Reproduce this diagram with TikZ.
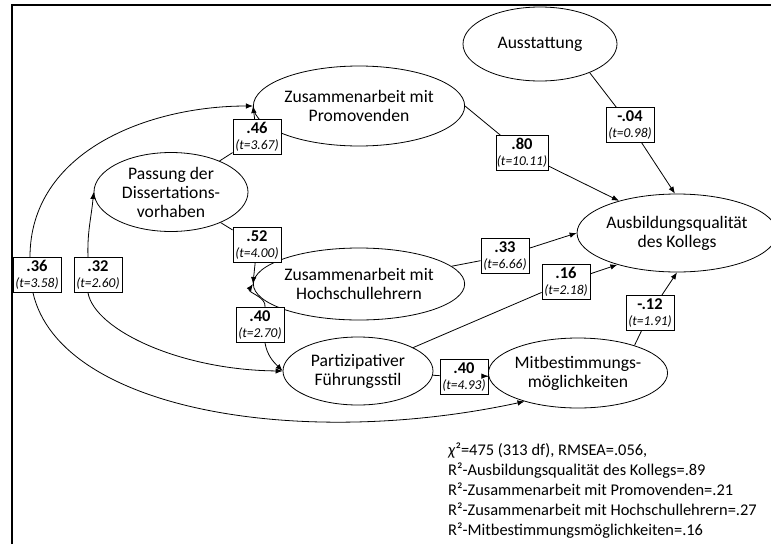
\documentclass[tikz,border=0pt]{standalone}
\usepackage{fontspec}
\setmainfont{Carlito}
\usetikzlibrary{shapes.geometric,arrows.meta}

\newcommand{\pathlabel}[2]{{\fontsize{16.5}{17}\selectfont\bfseries #1}\\{\itshape (t=#2)}}

\begin{document}
\begin{tikzpicture}[x=1pt,y=1pt,
    latent/.style={ellipse, draw, line width=0.8pt, minimum width=152pt, minimum height=76pt, inner sep=0pt, align=center, font=\fontsize{17.6}{19}\selectfont},
    coef/.style={rectangle, draw, line width=0.8pt, fill=white, inner sep=1pt, minimum width=48pt, minimum height=35pt, align=center, font=\fontsize{13.5}{16}\selectfont},
    link/.style={line width=0.8pt},
    effect/.style={link, -{Latex[length=7pt,width=5.5pt]}}]
    \useasboundingbox (0,0) rectangle (771,-544);

    % Frame
    \draw[line width=2pt] (12,-544) -- (12,-5) -- (771,-5);

    % Draw nodes
    \node[latent, minimum width=154pt, minimum height=74pt] (aus) at (540,-44) {Ausstattung};
    \node[latent, minimum height=80pt] (prom) at (359,-106) {Zusammenarbeit mit\\Promovenden};
    \node[latent, minimum width=154pt, minimum height=79pt] (pas) at (171,-192) {Passung der\\Dissertations-\\vorhaben};
    \node[latent, minimum height=72pt] (hoch) at (359,-284) {Zusammenarbeit mit\\Hochschullehrern};
    \node[latent, minimum width=150pt, minimum height=68pt] (part) at (358,-371) {Partizipativer\\Führungsstil};
    \node[latent, minimum height=70pt] (mitb) at (578,-373) {Mitbestimmungs-\\möglichkeiten};
    \node[latent, minimum height=78pt] (ausb) at (677,-233) {Ausbildungsqualität\\des Kollegs};

    % Coefficients
    \node[coef] (l46) at (257,-137) {\pathlabel{.46}{3.67}};
    \node[coef] (l52) at (257,-245) {\pathlabel{.52}{4.00}};
    \node[coef] (l36) at (37,-275) {\pathlabel{.36}{3.58}};
    \node[coef] (l32) at (98,-275) {\pathlabel{.32}{2.60}};
    \node[coef] (l40a) at (260,-325) {\pathlabel{.40}{2.70}};
    \node[coef] (l80) at (522,-153) {\pathlabel{.80}{10.11}};
    \node[coef] (l04) at (630,-125) {\pathlabel{-.04}{0.98}};
    \node[coef] (l33) at (505,-256) {\pathlabel{.33}{6.66}};
    \node[coef] (l16) at (566,-282) {\pathlabel{.16}{2.18}};
    \node[coef] (l12) at (650,-313) {\pathlabel{-.12}{1.91}};
    \node[coef] (l40b) at (464,-377) {\pathlabel{.40}{4.93}};

    % Draw connections
    \draw[link] (pas) -- (l46);
    \draw[effect] (l46) -- (prom.west);
    \draw[link] (pas) -- (l52);
    \draw[effect] (l52) -- (hoch.west);
    \draw[link] (prom.east) -- (l80);
    \draw[effect] (l80) -- (ausb.151);
    \draw[link] (aus.-30) -- (l04);
    \draw[effect] (l04) -- (ausb.93);
    \draw[link] (hoch) -- (l33);
    \draw[effect] (l33) -- (ausb.west);
    \draw[link] (part.23) -- (l16);
    \draw[effect] (l16) -- (ausb.208);
    \draw[link] (mitb.26) -- (l12);
    \draw[effect] (l12) -- (ausb.south);
    \draw[link] (part) -- (l40b);
    \draw[effect] (l40b) -- (mitb);

    % Curved connections
    \draw[effect] ([xshift=-7pt]l36.north) to[out=90,in=180] (prom.west);
    \draw[effect] ([xshift=-4pt]l36.south) .. controls (60,-410) and (300,-450) .. (mitb.208);
    \draw[effect] ([xshift=-10pt]l32.north) to[out=92,in=-95] (pas.west);
    \draw[effect] ([xshift=-10pt]l32.south) .. controls (95,-330) and (180,-370) .. (part.west);
    \draw[effect] ([xshift=5pt]l40a.north) to[out=80,in=235] (hoch.west);
    \draw[effect] ([xshift=5pt]l40a.south) to[out=-80,in=135] (part.west);

    % Fit indices
    \node[anchor=north west, align=left, inner sep=0pt, font=\fontsize{16.4}{20}\selectfont] (fit) at (448,-443)
        {\textit{χ}²=475 (313 df), RMSEA=.056,\\
         R²-Ausbildungsqualität des Kollegs=.89\\
         R²-Zusammenarbeit mit Promovenden=.21\\
         R²-Zusammenarbeit mit Hochschullehrern=.27\\
         R²-Mitbestimmungsmöglichkeiten=.16};
\end{tikzpicture}
\end{document}
